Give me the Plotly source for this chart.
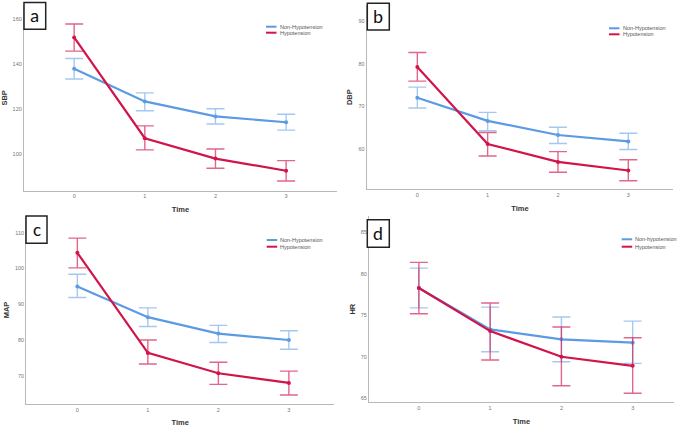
import plotly.graph_objects as go

time = [0, 1, 2, 3]
group_names = ["Non-Hypotension", "Hypotension"]
group_names_d = ["Non-hypotension", "Hypotension"]

# Panel a: SBP
sbp_non = [137.8, 123.3, 116.6, 114.0]
sbp_non_hi = [142.4, 127.1, 120.0, 117.6]
sbp_non_lo = [133.3, 119.1, 113.2, 110.5]
sbp_hyp = [151.8, 106.9, 97.8, 92.4]
sbp_hyp_hi = [157.8, 112.4, 102.1, 96.9]
sbp_hyp_lo = [145.7, 101.7, 93.5, 87.8]

# Panel b: DBP
dbp_non = [72.0, 66.6, 63.3, 61.8]
dbp_non_hi = [74.5, 68.6, 65.1, 63.7]
dbp_non_lo = [69.6, 64.3, 61.3, 59.9]
dbp_hyp = [79.2, 61.2, 57.0, 55.0]
dbp_hyp_hi = [82.6, 63.9, 59.4, 57.5]
dbp_hyp_lo = [75.9, 58.4, 54.6, 52.6]

# Panel c: MAP
map_non = [95.0, 86.4, 81.8, 80.0]
map_non_hi = [98.4, 89.0, 84.1, 82.6]
map_non_lo = [91.9, 83.8, 79.3, 77.4]
map_hyp = [104.4, 76.4, 70.7, 68.0]
map_hyp_hi = [108.5, 80.0, 73.8, 71.3]
map_hyp_lo = [100.2, 73.3, 67.6, 64.6]

# Panel d: HR
hr_non = [78.3, 73.3, 72.1, 71.7]
hr_non_hi = [80.7, 76.0, 74.8, 74.3]
hr_non_lo = [75.9, 70.6, 69.4, 69.2]
hr_hyp = [78.3, 73.1, 70.0, 68.9]
hr_hyp_hi = [81.4, 76.5, 73.6, 72.3]
hr_hyp_lo = [75.2, 69.6, 66.5, 65.6]

y_ticks = {
    "a": [100, 120, 140, 160],
    "b": [60, 70, 80, 90],
    "c": [70, 80, 90, 100, 110],
    "d": [65, 70, 75, 80, 85],
}

BLUE = "#5b9be3"
BLUE_ERR = "rgba(91,155,227,0.55)"
RED = "#d1144a"
RED_ERR = "rgba(209,20,74,0.65)"

W, H = 685, 428

def px(x):
    return x / W

def py(y):
    return 1 - y / H

fig = go.Figure()

panels = [
    ("a", "", "SBP", (sbp_non, sbp_non_hi, sbp_non_lo), (sbp_hyp, sbp_hyp_hi, sbp_hyp_lo), group_names),
    ("b", "2", "DBP", (dbp_non, dbp_non_hi, dbp_non_lo), (dbp_hyp, dbp_hyp_hi, dbp_hyp_lo), group_names),
    ("c", "3", "MAP", (map_non, map_non_hi, map_non_lo), (map_hyp, map_hyp_hi, map_hyp_lo), group_names),
    ("d", "4", "HR", (hr_non, hr_non_hi, hr_non_lo), (hr_hyp, hr_hyp_hi, hr_hyp_lo), group_names_d),
]

def add_series(vals, hi, lo, color, ecolor, name, sfx):
    fig.add_trace(go.Scatter(
        x=time, y=vals, mode="lines+markers", name=name,
        line=dict(color=color, width=2.2),
        marker=dict(color=color, size=4),
        error_y=dict(type="data", symmetric=False,
                     array=[h - v for h, v in zip(hi, vals)],
                     arrayminus=[v - l for v, l in zip(vals, lo)],
                     color=ecolor, thickness=1.4, width=9),
        xaxis="x" + sfx, yaxis="y" + sfx, showlegend=False,
    ))

for key, sfx, ytitle, non, hyp, names in panels:
    add_series(*non, BLUE, BLUE_ERR, names[0], sfx)
    add_series(*hyp, RED, RED_ERR, names[1], sfx)

geo = {
    "a": dict(x=(24, 337), y=(5, 190.7), xr=[-0.71, 3.72], yr=[83.5, 166.25]),
    "b": dict(x=(366.7, 673.3), y=(5, 189.3), xr=[-0.72, 3.64], yr=[50.6, 93.7]),
    "c": dict(x=(26.3, 334), y=(216, 404), xr=[-0.724, 3.64], yr=[62.1, 114.7]),
    "d": dict(x=(369, 674), y=(216, 402.3), xr=[-0.70, 3.58], yr=[64.5, 87.0]),
}

tickfont = dict(family="Liberation Sans, Arial, sans-serif", size=5.5, color="#777777")
titlefont = dict(family="Liberation Sans, Arial, sans-serif", size=7.5, color="#333333")
axcol = "#b8b8b8"

layout = dict(
    width=W, height=H, margin=dict(l=0, r=0, t=0, b=0),
    paper_bgcolor="white", plot_bgcolor="white", showlegend=False,
)
annotations = []
shapes = []

legend_pos = {
    "a": (266, 26.7, 32.7),
    "b": (609, 28.3, 34.3),
    "c": (266.7, 240, 246.7),
    "d": (621.7, 239.3, 246.7),
}
box_pos = {
    "a": (24, 2.5, 45.7, 29.3),
    "b": (367.3, 3.3, 389.3, 30),
    "c": (26, 216, 47, 243.3),
    "d": (367.3, 219.7, 389.3, 247.3),
}

for key, sfx, ytitle, non, hyp, names in panels:
    g = geo[key]
    xa = dict(
        domain=[px(g["x"][0]), px(g["x"][1])], range=g["xr"],
        tickvals=time, ticktext=[str(t) for t in time],
        showline=True, linecolor=axcol, linewidth=1.2, ticks="", showgrid=False, zeroline=False,
        tickfont=tickfont,
        title=dict(text="<b>Time</b>", font=titlefont, standoff=8),
        anchor="y" + sfx,
    )
    ya = dict(
        domain=[py(g["y"][1]), py(g["y"][0])], range=g["yr"],
        tickvals=y_ticks[key],
        showline=True, linecolor=axcol, linewidth=1.2, ticks="", showgrid=False, zeroline=False,
        tickfont=tickfont,
        title=dict(text="<b>%s</b>" % ytitle, font=titlefont, standoff=4),
        anchor="x" + sfx,
    )
    layout["xaxis" + sfx] = xa
    layout["yaxis" + sfx] = ya

    lx, ly1, ly2 = legend_pos[key]
    for yy, col, nm in [(ly1, BLUE, names[0]), (ly2, RED, names[1])]:
        shapes.append(dict(type="line", xref="paper", yref="paper",
                           x0=px(lx), x1=px(lx + 10.5), y0=py(yy), y1=py(yy),
                           line=dict(color=col, width=2)))
        annotations.append(dict(xref="paper", yref="paper", x=px(lx + 11.5), y=py(yy),
                                xanchor="left", yanchor="middle", text=nm, showarrow=False,
                                font=dict(family="Liberation Sans, Arial, sans-serif", size=5.5, color="#555555")))

    bx0, by0, bx1, by1 = box_pos[key]
    shapes.append(dict(type="rect", xref="paper", yref="paper",
                       x0=px(bx0), x1=px(bx1), y0=py(by1), y1=py(by0),
                       fillcolor="white", line=dict(color="#222222", width=1.5), layer="above"))
    annotations.append(dict(xref="paper", yref="paper", x=px((bx0 + bx1) / 2), y=py((by0 + by1) / 2),
                            xanchor="center", yanchor="middle", text=key, showarrow=False,
                            font=dict(family="Carlito, Lato, Noto Sans, sans-serif", size=19, color="#111111")))

layout["annotations"] = annotations
layout["shapes"] = shapes
fig.update_layout(**layout)
fig.write_html("out.html", config={"displayModeBar": False},
               post_script="document.body.style.margin='0';document.body.style.overflow='hidden';")
